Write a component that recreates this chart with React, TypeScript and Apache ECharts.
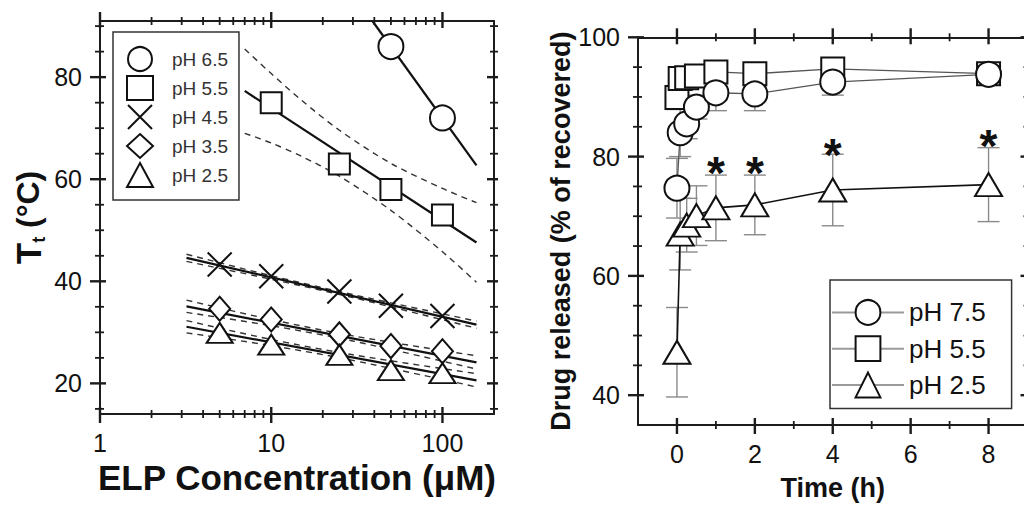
import React, { useEffect, useRef } from 'react';
import * as echarts from 'echarts';

const FONT = '"Liberation Sans", Arial, Helvetica, sans-serif';
const INK = '#111';
const AX = '#1c1c1c';
const TICK = '#1c1c1c';

// ---------- Left panel: Tt vs ELP concentration ----------
const conc65 = [50, 100];
const tt65 = [86, 72];
const conc55 = [10, 25, 50, 100];
const tt55 = [75, 63, 58, 53];
const concLow = [5, 10, 25, 50, 100];
const tt45 = [43.3, 41, 38, 35.2, 33.2];
const tt35 = [34.6, 32.5, 29.6, 27.3, 26.3];
const tt25 = [29.9, 27.6, 25.6, 22.6, 22];

const fit65X = [39, 158];
const fit65Y = [91, 62.7];
const fit55X = [7, 158];
const fit55Y = [77.3, 47.6];
const fitLowX = [3.2, 158];
const fit45Y = [44.6, 31.5];
const fit35Y = [35.1, 24.1];
const fit25Y = [31.1, 20.6];

const band55X = [7, 10, 15, 25, 50, 100, 158];
const band55Up = [85.5, 80.7, 75.5, 69.6, 63.1, 58.2, 55.4];
const band55Lo = [69.0, 67.1, 64.5, 60.6, 53.9, 45.8, 39.8];
const bandLowX = [3.2, 10, 30, 158];
const band45Up = [45.3, 41.1, 37.4, 32.2];
const band45Lo = [43.9, 40.4, 36.8, 30.8];
const band35Up = [36.3, 32.5, 29.3, 25.4];
const band35Lo = [33.9, 31.3, 28.3, 22.8];
const band25Up = [32.3, 28.6, 25.6, 21.9];
const band25Lo = [29.9, 27.4, 24.5, 19.3];

const leftXMajor = [1, 10, 100];
const leftXMinor = [2, 3, 4, 5, 6, 7, 8, 9, 20, 30, 40, 50, 60, 70, 80, 90];
const leftYMajor = [20, 40, 60, 80];
const leftYMinor = [15, 25, 30, 35, 45, 50, 55, 65, 70, 75, 85, 90];

// ---------- Right panel: drug release vs time ----------
const time = [0, 0.083, 0.25, 0.5, 1, 2, 4, 8];
const rel75 = [74.7, 84, 85.5, 88.3, 90.7, 90.5, 92.5, 93.8];
const err75 = [5, 4, 2.5, 2, 3, 2.8, 2.2, 1];
const rel55 = [89.9, 93.1, 93.2, 93.5, 94.2, 93.9, 94.7, 93.9];
const err55 = [2, 1.5, 1.2, 1, 1, 1, 1, 1];
const rel25 = [47.2, 67.0, 68.5, 70.1, 71.4, 71.9, 74.4, 75.3];
const err25 = [7.5, 6, 4.5, 5, 5.5, 5, 6, 6.2];
const starTime = [1, 2, 4, 8];
const starY = [78.9, 78.9, 82, 83.4];

const rightXMajor = [0, 2, 4, 6, 8];
const rightXMinor = [1, 3, 5, 7];
const rightYMajor = [40, 60, 80, 100];
const rightYMinor = [45, 50, 55, 65, 70, 75, 85, 90, 95];

const zip = (xs: number[], ys: number[]) => xs.map((x, i) => [x, ys[i]]);
const zip3 = (xs: number[], ys: number[], es: number[]) => xs.map((x, i) => [x, ys[i], es[i]]);

const X_PATH = 'path://M0,0L24,24M24,0L0,24';

const leftXBase = { type: 'log', logBase: 10, min: 1, max: 200 };
const leftYBase = { type: 'value', min: 14, max: 91 };
const rightXBase = { type: 'value', min: -1, max: 9 };
const rightYBase = { type: 'value', min: 35, max: 100 };

const labelStyle = { fontFamily: FONT, fontSize: 25, color: INK };

function frameAxis(base: any, gridIndex: number, position: string) {
  return {
    ...base,
    gridIndex,
    position,
    axisLine: { show: true, onZero: false, lineStyle: { color: AX, width: 2 } },
    axisTick: { show: false },
    axisLabel: { show: false },
    splitLine: { show: false },
  };
}

const xAxes: any[] = [
  {
    ...leftXBase,
    gridIndex: 0,
    position: 'bottom',
    axisLine: { show: true, onZero: false, lineStyle: { color: AX, width: 2 } },
    axisTick: { show: false },
    axisLabel: { ...labelStyle, customValues: leftXMajor, margin: 16 },
    splitLine: { show: false },
    name: 'ELP Concentration (μM)',
    nameLocation: 'middle',
    nameGap: 45,
    nameTextStyle: { fontFamily: FONT, fontSize: 35, fontWeight: 'bold', color: INK },
  },
  {
    ...rightXBase,
    gridIndex: 1,
    position: 'bottom',
    axisLine: { show: true, onZero: false, lineStyle: { color: AX, width: 2 } },
    axisTick: { show: false },
    axisLabel: { ...labelStyle, customValues: rightXMajor, margin: 16 },
    splitLine: { show: false },
    name: 'Time (h)',
    nameLocation: 'middle',
    nameGap: 49,
    nameTextStyle: { fontFamily: FONT, fontSize: 27, fontWeight: 'bold', color: INK },
  },
  frameAxis(leftXBase, 0, 'top'),
  frameAxis(rightXBase, 1, 'top'),
];

const yAxes: any[] = [
  {
    ...leftYBase,
    gridIndex: 0,
    position: 'left',
    axisLine: { show: true, onZero: false, lineStyle: { color: AX, width: 2 } },
    axisTick: { show: false },
    axisLabel: { ...labelStyle, customValues: leftYMajor, margin: 18 },
    splitLine: { show: false },
    name: '{T|T}{s|t}{c| (°C)}',
    nameLocation: 'middle',
    nameGap: 52,
    nameTextStyle: {
      fontFamily: FONT,
      color: INK,
      rich: {
        T: { fontFamily: FONT, fontSize: 35, fontWeight: 'bold', color: INK, lineHeight: 40 },
        s: { fontFamily: FONT, fontSize: 18, fontWeight: 'bold', color: INK, verticalAlign: 'bottom', lineHeight: 18 },
        c: { fontFamily: FONT, fontSize: 32, fontWeight: 'bold', color: INK, lineHeight: 40 },
      },
    },
  },
  {
    ...rightYBase,
    gridIndex: 1,
    position: 'left',
    axisLine: { show: true, onZero: false, lineStyle: { color: AX, width: 2 } },
    axisTick: { show: false },
    axisLabel: { ...labelStyle, customValues: rightYMajor, margin: 18 },
    splitLine: { show: false },
    name: 'Drug released (% of recovered)',
    nameLocation: 'middle',
    nameGap: 60,
    nameTextStyle: { fontFamily: FONT, fontSize: 27, fontWeight: 'bold', color: INK },
  },
  frameAxis(leftYBase, 0, 'right'),
  frameAxis(rightYBase, 1, 'right'),
];

const markerStyle = { color: '#fff', borderColor: INK, borderWidth: 2, opacity: 1 };

const L = { xAxisIndex: 0, yAxisIndex: 0 };
const R = { xAxisIndex: 1, yAxisIndex: 1 };

const fitLine = (data: number[][], z = 2) => ({
  type: 'line', ...L, data, symbol: 'none', silent: true, z,
  lineStyle: { color: INK, width: 2.2 },
});
const bandLine = (data: number[][]) => ({
  type: 'line', ...L, data, symbol: 'none', silent: true, smooth: 0.3, z: 2,
  lineStyle: { color: '#333', width: 1.4, type: [6, 5] },
});
const scat = (name: string, data: number[][], symbol: string, symbolSize: any) => ({
  type: 'scatter', ...L, name, data, symbol, symbolSize, silent: true, z: 3,
  itemStyle: markerStyle,
});

const errorBars = (data: number[][], z: number) => ({
  type: 'custom', ...R, data, silent: true, z,
  encode: { x: 0, y: 1 },
  renderItem: (params: any, api: any) => {
    const x = api.value(0);
    const y = api.value(1);
    const e = api.value(2);
    const top = api.coord([x, y + e]);
    const bot = api.coord([x, y - e]);
    const cw = 11;
    const st = { stroke: '#8a8a8a', lineWidth: 1.4 };
    return {
      type: 'group',
      children: [
        { type: 'line', shape: { x1: top[0], y1: top[1], x2: bot[0], y2: bot[1] }, style: st },
        { type: 'line', shape: { x1: top[0] - cw, y1: top[1], x2: top[0] + cw, y2: top[1] }, style: st },
        { type: 'line', shape: { x1: bot[0] - cw, y1: bot[1], x2: bot[0] + cw, y2: bot[1] }, style: st },
      ],
    };
  },
});

const relLine = (name: string, data: number[][], symbol: string, symbolSize: any, lineColor: string, lw: number, z: number) => ({
  type: 'line', ...R, name, data, symbol, symbolSize, showAllSymbol: true, silent: true, z,
  itemStyle: markerStyle,
  lineStyle: { color: lineColor, width: lw },
});

const option: any = {
  animation: false,
  backgroundColor: '#fff',
  grid: [
    { left: 100, top: 21, width: 394, height: 393, outerBoundsMode: 'none' },
    { left: 638, top: 37.3, width: 389.5, height: 387.7, outerBoundsMode: 'none' },
  ],
  xAxis: xAxes,
  yAxis: yAxes,
  legend: [
    {
      data: ['a:pH 6.5', 'a:pH 5.5', 'a:pH 4.5', 'a:pH 3.5', 'a:pH 2.5'],
      formatter: (n: string) => n.slice(2),
      orient: 'vertical',
      left: 113,
      top: 32,
      itemWidth: 26,
      itemHeight: 24,
      itemGap: 3,
      padding: [14, 11, 12, 13],
      borderColor: '#333',
      borderWidth: 1.5,
      backgroundColor: '#fff',
      selectedMode: false,
      textStyle: { fontFamily: FONT, fontSize: 19, color: '#333', padding: [0, 0, 0, 14] },
    },
    {
      data: ['b:pH 7.5', 'b:pH 5.5', 'b:pH 2.5'],
      formatter: (n: string) => n.slice(2),
      orient: 'vertical',
      left: 830,
      top: 280,
      itemWidth: 72,
      itemHeight: 31,
      itemGap: 9.5,
      padding: [19, 26, 10, 1],
      borderColor: '#333',
      borderWidth: 1.5,
      backgroundColor: '#fff',
      selectedMode: false,
      lineStyle: { color: '#9a9a9a', width: 2 },
      textStyle: { fontFamily: FONT, fontSize: 26, color: INK },
    },
  ],
  series: [
    // left panel
    bandLine(zip(band55X, band55Up)),
    bandLine(zip(band55X, band55Lo)),
    bandLine(zip(bandLowX, band45Up)),
    bandLine(zip(bandLowX, band45Lo)),
    bandLine(zip(bandLowX, band35Up)),
    bandLine(zip(bandLowX, band35Lo)),
    bandLine(zip(bandLowX, band25Up)),
    bandLine(zip(bandLowX, band25Lo)),
    fitLine(zip(fit65X, fit65Y)),
    fitLine(zip(fit55X, fit55Y)),
    fitLine(zip(fitLowX, fit45Y)),
    fitLine(zip(fitLowX, fit35Y)),
    fitLine(zip(fitLowX, fit25Y)),
    scat('a:pH 6.5', zip(conc65, tt65), 'circle', 25),
    scat('a:pH 5.5', zip(conc55, tt55), 'rect', 21),
    scat('a:pH 4.5', zip(concLow, tt45), X_PATH, 24),
    scat('a:pH 3.5', zip(concLow, tt35), 'diamond', [21, 24]),
    scat('a:pH 2.5', zip(concLow, tt25), 'triangle', [26, 20]),
    // right panel
    errorBars(zip3(time, rel55, err55), 1),
    errorBars(zip3(time, rel75, err75), 1),
    errorBars(zip3(time, rel25, err25), 1),
    relLine('b:pH 5.5', zip(time, rel55), 'rect', 23, '#555', 1.3, 3),
    relLine('b:pH 7.5', zip(time, rel75), 'circle', 25, '#555', 1.3, 4),
    relLine('b:pH 2.5', zip(time, rel25), 'triangle', [27, 23], '#111', 1.6, 5),
    {
      type: 'scatter', ...R, data: zip(starTime, starY), symbolSize: 2, silent: true, z: 6,
      itemStyle: { color: 'rgba(255,255,255,0)', opacity: 1 },
      label: {
        show: true, position: 'inside', formatter: '*', offset: [0, 10],
        fontFamily: FONT, fontSize: 46, fontWeight: 'bold', color: INK,
      },
    },
  ],
};

// Tick marks: placed with the chart's own axis scales (convertToPixel).
function buildTicks(chart: any) {
  const els: any[] = [];
  const add = (finder: any, xMaj: number[], xMin: number[], yMaj: number[], yMin: number[], xb: any, yb: any) => {
    const put = (x: number, y: number, side: string, out: number, inn: number, w: number) => {
      const p = chart.convertToPixel(finder, [x, y]);
      if (!p) return;
      let shape;
      if (side === 'bottom') shape = { x1: p[0], y1: p[1] - inn, x2: p[0], y2: p[1] + out };
      else if (side === 'top') shape = { x1: p[0], y1: p[1] + inn, x2: p[0], y2: p[1] - out };
      else if (side === 'left') shape = { x1: p[0] + inn, y1: p[1], x2: p[0] - out, y2: p[1] };
      else shape = { x1: p[0] - inn, y1: p[1], x2: p[0] + out, y2: p[1] };
      els.push({ type: 'line', silent: true, z: 50, shape, style: { stroke: TICK, lineWidth: w } });
    };
    for (const v of xMaj) { put(v, yb.min, 'bottom', 9, 7, 2.4); put(v, yb.max, 'top', 9, 7, 2.4); }
    for (const v of xMin) { put(v, yb.min, 'bottom', 4, 4, 1.8); put(v, yb.max, 'top', 4, 4, 1.8); }
    for (const v of yMaj) { put(xb.min, v, 'left', 10, 6, 2.4); put(xb.max, v, 'right', 4, 7, 2.4); }
    for (const v of yMin) { put(xb.min, v, 'left', 5, 4, 1.8); put(xb.max, v, 'right', 4, 4, 1.8); }
  };
  add(L, leftXMajor, leftXMinor, leftYMajor, leftYMinor, leftXBase, leftYBase);
  add(R, rightXMajor, rightXMinor, rightYMajor, rightYMinor, rightXBase, rightYBase);
  return els;
}

export default function App() {
  const ref = useRef<HTMLDivElement>(null);
  useEffect(() => {
    const chart = echarts.init(ref.current!, undefined, { renderer: 'svg' });
    chart.setOption(option);
    chart.setOption({ graphic: buildTicks(chart) });
    return () => chart.dispose();
  }, []);
  return (
    <div
      ref={ref}
      style={{ position: 'fixed', left: 0, top: 0, width: 1024, height: 506, background: '#fff' }}
    />
  );
}
